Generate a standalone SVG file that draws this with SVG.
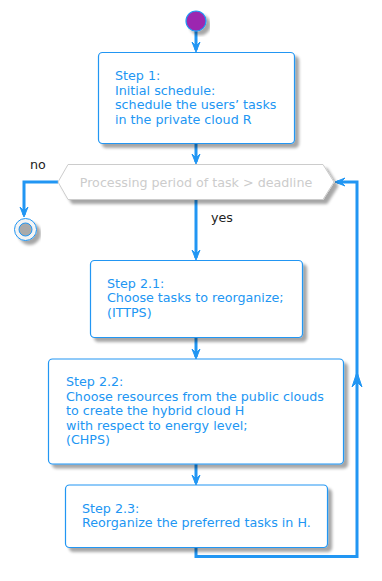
<svg xmlns="http://www.w3.org/2000/svg" width="382" height="581" viewBox="0 0 382 581">
<style>
.box{fill:#ffffff;stroke:#2196F3;stroke-width:1.2;filter:url(#sh)}
.txt{font-family:"DejaVu Sans",sans-serif;font-size:12.7px;fill:#2196F3}
.lbl{font-family:"DejaVu Sans",sans-serif;font-size:12.7px;fill:#222222}
.ln{fill:none;stroke:#2196F3;stroke-width:3}
.ah{fill:#2196F3;stroke:#2196F3;stroke-width:1}
</style>
<defs>
<filter id="sh" x="-10%" y="-10%" width="130%" height="140%">
<feGaussianBlur in="SourceAlpha" stdDeviation="1.5" result="b"/>
<feOffset in="b" dx="4" dy="4" result="o"/>
<feComponentTransfer in="o" result="c"><feFuncA type="linear" slope="0.35"/></feComponentTransfer>
<feMerge><feMergeNode in="c"/><feMergeNode in="SourceGraphic"/></feMerge>
</filter>
</defs>
<g id="connectors">
<line class="ln" x1="196" y1="31" x2="196" y2="50"/>
<polygon class="ah" points="192,42 196,52 200,42 196,46"/>
<line class="ln" x1="196" y1="144" x2="196" y2="162"/>
<polygon class="ah" points="192,154 196,164 200,154 196,158"/>
<polyline class="ln" points="58,182 24,182 24,215"/>
<polygon class="ah" points="20,207 24,217 28,207 24,211"/>
<line class="ln" x1="196" y1="199" x2="196" y2="258"/>
<polygon class="ah" points="192,250 196,260 200,250 196,254"/>
<line class="ln" x1="196" y1="337" x2="196" y2="357"/>
<polygon class="ah" points="192,349 196,359 200,349 196,353"/>
<line class="ln" x1="196" y1="464" x2="196" y2="483"/>
<polygon class="ah" points="192,475 196,485 200,475 196,479"/>
<polyline class="ln" points="196,547 196,556.5 357,556.5 357,182 337,182"/>
<polygon class="ah" points="352,387 357,372 362,387 357,382"/>
<polygon class="ah" points="345,178 335,182 345,186 341,182"/>
</g>
<g id="start">
<circle cx="196" cy="21" r="10" fill="#9C27B0" stroke="#2196F3" stroke-width="1.2" filter="url(#sh)"/>
</g>
<g id="step1">
<rect class="box" x="98.5" y="52.5" width="196" height="91" rx="4"/>
<text class="txt" x="115" y="80">Step 1:</text>
<text class="txt" x="115" y="94.5">Initial schedule:</text>
<text class="txt" x="115" y="109">schedule the users’ tasks</text>
<text class="txt" x="115" y="123.5">in the private cloud R</text>
</g>
<g id="decision">
<polygon points="58,182 68,164.5 323,164.5 334,182 323,199.5 68,199.5" fill="#ffffff" stroke="#cccccc" stroke-width="1" filter="url(#sh)"/>
<text x="196" y="186.5" text-anchor="middle" style="font-family:'DejaVu Sans',sans-serif;font-size:12.7px;fill:#cccccc">Processing period of task &gt; deadline</text>
<text class="lbl" x="30" y="168.5">no</text>
<text class="lbl" x="211" y="222">yes</text>
</g>
<g id="end">
<circle cx="25.5" cy="229.5" r="11" fill="#f4f4f4" stroke="#2196F3" stroke-width="1" filter="url(#sh)"/>
<circle cx="25.5" cy="229.5" r="6.5" fill="#aaaaaa" stroke="#2196F3" stroke-width="1"/>
</g>
<g id="step21">
<rect class="box" x="90.5" y="260.5" width="212" height="77" rx="4"/>
<text class="txt" x="107" y="287.5">Step 2.1:</text>
<text class="txt" x="107" y="302">Choose tasks to reorganize;</text>
<text class="txt" x="107" y="316.5">(ITTPS)</text>
</g>
<g id="step22">
<rect class="box" x="48.5" y="359" width="295" height="105" rx="4"/>
<text class="txt" x="66" y="386">Step 2.2:</text>
<text class="txt" x="66" y="400.5">Choose resources from the public clouds</text>
<text class="txt" x="66" y="415">to create the hybrid cloud H</text>
<text class="txt" x="66" y="429.5">with respect to energy level;</text>
<text class="txt" x="66" y="444">(CHPS)</text>
</g>
<g id="step23">
<rect class="box" x="65.5" y="485" width="262" height="62.5" rx="4"/>
<text class="txt" x="82" y="512.5">Step 2.3:</text>
<text class="txt" x="82" y="527">Reorganize the preferred tasks in H.</text>
</g>
</svg>
